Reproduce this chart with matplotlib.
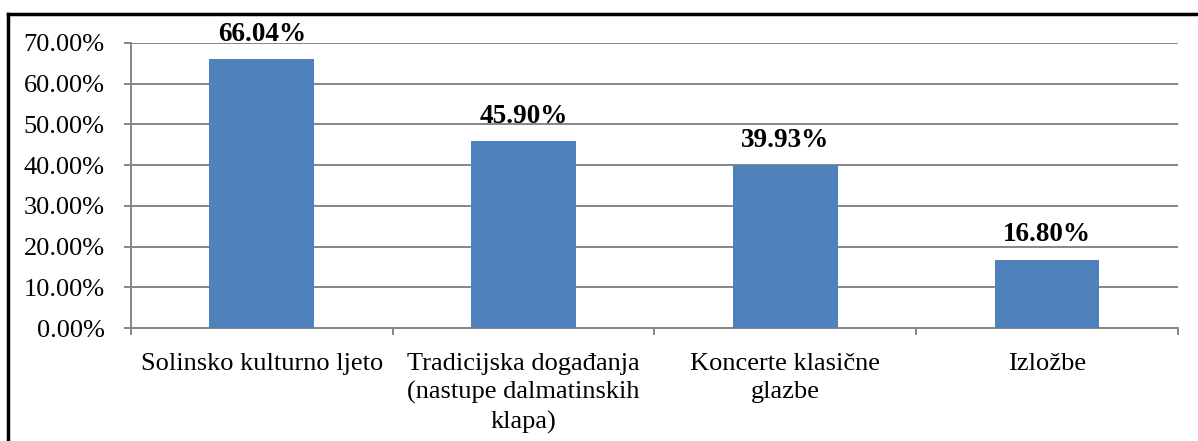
import matplotlib
matplotlib.use("Agg")
import matplotlib.pyplot as plt
from matplotlib.lines import Line2D
from matplotlib.ticker import MultipleLocator, FuncFormatter, FixedLocator

categories = ["Solinsko kulturno ljeto",
              "Tradicijska događanja\n(nastupe dalmatinskih\nklapa)",
              "Koncerte klasične\nglazbe",
              "Izložbe"]
values = [66.04, 45.90, 39.93, 16.80]
labels = ["66.04%", "45.90%", "39.93%", "16.80%"]

plt.rcParams['font.family'] = ['Liberation Serif', 'DejaVu Serif']

fig = plt.figure(figsize=(11.98, 4.41), dpi=100)
ax = fig.add_axes([0.1093, 0.2562, 0.9833 - 0.1093, 0.9025 - 0.2562])

grid_c = "#868686"
x = list(range(len(categories)))
ax.bar(x, values, width=0.4, color="#4F81BD", zorder=3)
ax.set_xlim(-0.5, len(categories) - 0.5)
ax.set_ylim(0, 70)
ax.yaxis.set_major_locator(MultipleLocator(10))
ax.yaxis.set_major_formatter(FuncFormatter(lambda v, p: f"{v:.2f}%"))
ax.grid(axis='y', color=grid_c, lw=1.4, zorder=0)
ax.set_axisbelow(True)

for s in ['top', 'right']:
    ax.spines[s].set_visible(False)
for s in ['left', 'bottom']:
    ax.spines[s].set_color(grid_c)
    ax.spines[s].set_linewidth(1.4)

ax.set_xticks(x)
ax.set_xticklabels(categories, fontsize=19)
for t in ax.get_xticklabels():
    t.set_multialignment('center')
    t.set_linespacing(1.35)
ax.tick_params(axis='x', length=0, pad=18)
ax.xaxis.set_minor_locator(FixedLocator([i + 0.5 for i in range(-1, len(categories))]))
ax.tick_params(axis='x', which='minor', length=5, width=1.4, color=grid_c, direction='out')
ax.tick_params(axis='y', length=5, width=1.4, color=grid_c, labelsize=19, pad=14)
for t in ax.get_yticklabels():
    t.set_color('black')

for xi, v, lab in zip(x, values, labels):
    ax.annotate(lab, (xi, v), xytext=(0, 9), textcoords='offset points',
                ha='center', va='bottom', fontsize=19.5, fontweight='bold',
                annotation_clip=False)

W, H = 1198, 441
fig.add_artist(Line2D([8 / W, 1.0], [1 - 14 / H, 1 - 14 / H], transform=fig.transFigure,
                      color='black', lw=2.5))
fig.add_artist(Line2D([8 / W, 8 / W], [1 - 14 / H, 0], transform=fig.transFigure,
                      color='black', lw=2.5))

fig.savefig("out.png", dpi=100)
